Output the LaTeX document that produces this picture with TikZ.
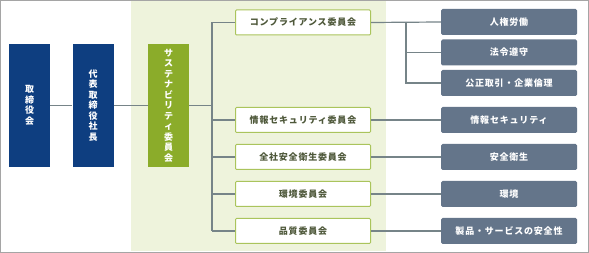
\documentclass[tikz,border=0pt]{standalone}
\usepackage{fontspec}
\newfontfamily\jp[LetterSpace=9]{Noto Sans CJK JP}
\newfontfamily\jpv{Noto Sans CJK JP}
\definecolor{navy}{RGB}{14,62,128}
\definecolor{olive}{RGB}{139,172,42}
\definecolor{panel}{RGB}{238,243,220}
\definecolor{combord}{RGB}{170,196,92}
\definecolor{comtext}{RGB}{78,88,58}
\definecolor{slate}{RGB}{100,117,138}
\definecolor{linegray}{RGB}{118,132,136}
\definecolor{framegray}{RGB}{165,165,165}
\tikzset{
  tallbox/.style={draw=none, text=white, minimum width=41pt, minimum height=123pt, inner sep=0pt,
    align=center, font=\jpv\bfseries\fontsize{9}{10.5}\selectfont},
  navybox/.style={tallbox, fill=navy},
  greenbox/.style={tallbox, fill=olive},
  combox/.style={draw=combord, line width=1pt, fill=white, text=comtext, minimum width=135pt,
    minimum height=25pt, inner sep=0pt, rounded corners=1pt, font=\jp\bfseries\fontsize{9}{10}\selectfont},
  topicbox/.style={draw=none, fill=slate, text=white, minimum width=136pt, minimum height=26pt,
    inner sep=0pt, rounded corners=1.5pt, font=\jp\bfseries\fontsize{9}{10}\selectfont},
  conn/.style={draw=linegray, line width=1.2pt}
}
\begin{document}
\begin{tikzpicture}[x=1pt,y=-1pt]
\useasboundingbox (0,0) rectangle (589,253);
\fill[white] (0,0) rectangle (589,253);
\fill[panel] (131,1.5) rectangle (386,251.5);
\draw[framegray, line width=1.2pt] (0.6,0.6) rectangle (588.4,252.4);

\node[navybox] (board) at (29.5,105.5) {取\\締\\役\\会};
\node[navybox] (pres) at (93,105.5) {代\\表\\取\\締\\役\\社\\長};
\node[greenbox] (sust) at (168.5,105.5) {サ\\ス\\テ\\ナ\\ビ\\リ\\テ\\ィ\\委\\員\\会};

\node[combox] (c1) at (303,22.5) {コンプライアンス委員会};
\node[combox] (c2) at (303,120) {情報セキュリティ委員会};
\node[combox] (c3) at (303,157) {全社安全衛生委員会};
\node[combox] (c4) at (303,194) {環境委員会};
\node[combox] (c5) at (303,231) {品質委員会};

\node[topicbox] (t1) at (509,22) {人権労働};
\node[topicbox] (t2) at (509,52.5) {法令遵守};
\node[topicbox] (t3) at (509,83) {公正取引・企業倫理};
\node[topicbox] (t4) at (509,120) {情報セキュリティ};
\node[topicbox] (t5) at (509,157) {安全衛生};
\node[topicbox] (t6) at (509,194) {環境};
\node[topicbox] (t7) at (509,231) {製品・サービスの安全性};

\coordinate (bus) at (212,105.5);
\coordinate (cbus) at (406,22);

\draw[conn] (board.east) -- (pres.west);
\draw[conn] (pres.east) -- (sust.west);
\draw[conn] (sust.east) -- (bus);
\draw[conn] (bus |- c1) -- (bus |- c5);
\foreach \c in {c1,c2,c3,c4,c5} { \draw[conn] (bus |- \c) -- (\c.west); }

\draw[conn] (c1.east) -- (t1.west);
\draw[conn] (cbus |- t1) -- (cbus |- t3) -- (t3.west);
\draw[conn] (cbus |- t2) -- (t2.west);
\draw[conn] (c2.east) -- (t4.west);
\draw[conn] (c3.east) -- (t5.west);
\draw[conn] (c4.east) -- (t6.west);
\draw[conn] (c5.east) -- (t7.west);
\end{tikzpicture}
\end{document}
